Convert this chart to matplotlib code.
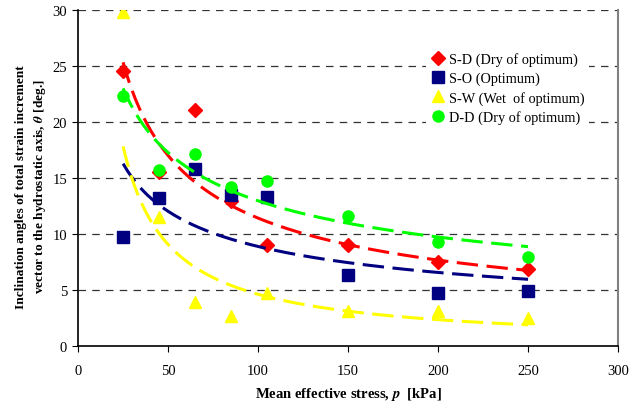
import numpy as np
import matplotlib
matplotlib.use('Agg')
import matplotlib.pyplot as plt

# mean effective stress p [kPa]
p = [25, 45, 65, 85, 105, 150, 200, 250]

# inclination angle theta [deg.] per series
sd = [24.5, 15.5, 21.1, 12.9, 9.0, 9.0, 7.5, 6.9]
so = [9.7, 13.2, 15.8, 13.5, 13.3, 6.3, 4.7, 4.9]
sw = [29.8, 11.5, 3.9, 2.7, 4.7, 3.1, 3.1, 2.5]
dd = [22.3, 15.7, 17.1, 14.2, 14.7, 11.6, 9.3, 7.9]

labels = ['S-D (Dry of optimum)', 'S-O (Optimum)',
          'S-W (Wet  of optimum)', 'D-D (Dry of optimum)']
series = [sd, so, sw, dd]
colors = ['#FF0000', '#000080', '#FFFF00', '#00FF00']
markers = ['D', 's', '^', 'o']
sizes = [7, 8, 9, 8]

plt.rcParams['font.family'] = ['Liberation Serif', 'DejaVu Serif']
plt.rcParams['mathtext.fontset'] = 'stix'

fig = plt.figure(figsize=(6.3, 4.02), dpi=100)
ax = fig.add_axes([0.124, 0.137, 0.857, 0.836])

x = np.array(p, dtype=float)
xs = np.linspace(x.min(), x.max(), 200)
for y, c, m, s, lab in zip(series, colors, markers, sizes, labels):
    ax.plot(x, y, linestyle='none', marker=m, color=c, ms=s,
            markeredgecolor=c, label=lab, zorder=3)
    # power trendline, like excel
    b, a = np.polyfit(np.log(x), np.log(y), 1)
    ax.plot(xs, np.exp(a) * xs ** b, color=c, lw=2.2,
            dashes=(7, 2.8), zorder=4)

ax.set_xlim(0, 300)
ax.set_ylim(0, 30)
ax.set_xticks(range(0, 301, 50))
ax.set_yticks(range(0, 31, 5))
for v in range(5, 31, 5):
    ax.axhline(v, color='#333333', lw=0.9, dashes=(6, 5), zorder=1)

ax.spines['top'].set_visible(False)
ax.spines['right'].set_color('#808080')
ax.spines['right'].set_linewidth(1.5)
ax.spines['left'].set_linewidth(1.2)
ax.spines['bottom'].set_linewidth(1.2)
ax.tick_params(direction='out', length=4, labelsize=10.5, pad=9)
ax.tick_params(axis='y', pad=4)

ax.set_xlabel(r'Mean effective stress, $\boldsymbol{p}$  [kPa]',
              fontsize=10.5, fontweight='bold')
ax.xaxis.set_label_coords(0.5, -0.117)
ax.set_ylabel('Inclination angles of total strain increment\n'
              r'vector to the hydrostatic axis, $\boldsymbol{\theta}$ [deg.]',
              fontsize=9.6, fontweight='bold', linespacing=1.45)
ax.yaxis.set_label_coords(-0.055, 0.476)

leg = ax.legend(loc='upper left', bbox_to_anchor=(0.645, 0.888), frameon=True,
                fontsize=10.3, handlelength=1.0, handletextpad=0.3,
                borderpad=0.3, labelspacing=0.4, borderaxespad=0)
leg.get_frame().set_edgecolor('none')
leg.get_frame().set_facecolor('white')
leg.get_frame().set_alpha(1)
leg.set_zorder(5)

fig.savefig('out.png', dpi=100)
